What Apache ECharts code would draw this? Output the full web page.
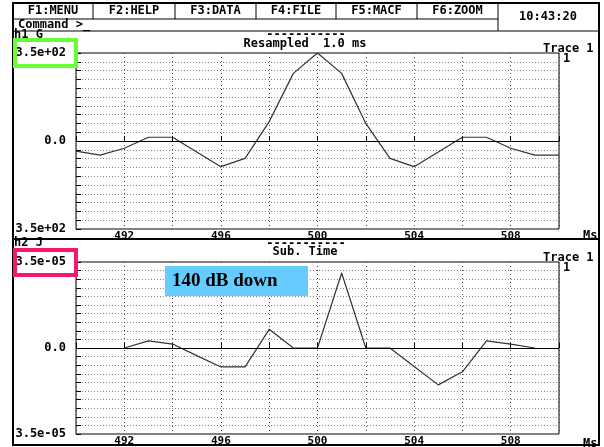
<!DOCTYPE html>
<html>
<head>
<meta charset="utf-8">
<script src="https://cdn.jsdelivr.net/npm/echarts@6/dist/echarts.min.js"></script>
<style>
  html, body { margin: 0; padding: 0; background: #fff; }
  #chart { width: 604px; height: 447px; }
</style>
</head>
<body>
<div id="chart"></div>
<script>
// upper trace, "Resampled 1.0 ms" (h1 G)
const timeTop = [490, 491, 492, 493, 494, 495, 496, 497, 498, 499, 500, 501, 502, 503, 504, 505, 506, 507, 508, 509, 510]
const resampled = [-40, -56, -29, 15, 15, -44, -102, -69, 77, 269, 350, 269, 70, -69, -102, -44, 15, 15, -29, -56, -56]

// lower trace, "Sub. Time" (h2 J), values in 1e-6
const timeSub = [492, 493, 494, 495, 496, 497, 498, 499, 500, 501, 502, 503, 504, 505, 506, 507, 508, 509]
const subTime = [0, 2.9, 1.6, -3.1, -7.7, -7.7, 7.6, 0, 0, 30.5, 0, 0, -7.5, -15, -9.7, 2.9, 1.6, 0]

const menuItems = ['F1:MENU', 'F2:HELP', 'F3:DATA', 'F4:FILE', 'F5:MACF', 'F6:ZOOM']
const menuEdges = [13, 93, 175, 256, 336, 417, 498]

const mono = 'bold 12px "DejaVu Sans Mono"'
const chart = echarts.init(document.getElementById('chart'))

function txt(text, x, y, align, font, z) {
    return {
        type: 'text', x: x, y: y, z: z || 10, silent: true,
        style: { text: text, font: font || mono, fill: '#000', align: align || 'left', verticalAlign: 'middle',
                 textAlign: align || 'left', textVerticalAlign: 'middle' }
    }
}
function ln(x1, y1, x2, y2, w) {
    return { type: 'line', z: 10, silent: true, shape: { x1: x1, y1: y1, x2: x2, y2: y2 }, style: { stroke: '#000', lineWidth: w || 1 } }
}

const graphics = [
    { type: 'rect', z: 10, silent: true, shape: { x: 13, y: 3, width: 586, height: 442 }, style: { fill: 'none', stroke: '#000', lineWidth: 2 } },
    ln(13, 19, 498, 19), ln(13, 31, 599, 31), ln(498, 3, 498, 31),
    ln(13, 239, 599, 239, 2),
    txt('10:43:20', 548, 17, 'center'),
    txt('Command >_', 18, 25),
    txt('h1 G', 14, 35),
    txt('-----------', 306, 35, 'center'),
    txt('Resampled  1.0 ms', 305, 44, 'center'),
    txt('Trace 1', 543, 49),
    txt('1', 563, 59),
    txt('Ms', 583, 236),
    txt('h2 J', 14, 243),
    txt('-----------', 306, 244, 'center'),
    txt('Sub. Time', 305, 252, 'center'),
    txt('Trace 1', 543, 258),
    txt('1', 563, 268),
    txt('Ms', 583, 444),
    { type: 'rect', z: 11, silent: true, shape: { x: 15, y: 40, width: 61, height: 26 }, style: { fill: 'none', stroke: '#66ff33', lineWidth: 4 } },
    { type: 'rect', z: 11, silent: true, shape: { x: 15, y: 250, width: 61, height: 25 }, style: { fill: 'none', stroke: '#f7186e', lineWidth: 4 } },
    { type: 'rect', z: 100, silent: true, shape: { x: 165, y: 266, width: 143, height: 30 }, style: { fill: '#66ccff' } },
    txt('140 dB down', 172, 281, 'left', 'bold 19px "Liberation Serif"', 101)
]
menuItems.forEach(function (m, i) {
    graphics.push(txt(m, (menuEdges[i] + menuEdges[i + 1]) / 2, 11, 'center'))
    if (i > 0) graphics.push(ln(menuEdges[i], 3, menuEdges[i], 19))
})

function xAxisFor(gridIndex) {
    return {
        type: 'value', gridIndex: gridIndex, min: 490, max: 510, interval: 2,
        axisLine: { show: false },
        axisTick: { inside: true, length: 5, lineStyle: { color: '#000' } },
        axisLabel: { margin: 2, color: '#000', fontFamily: 'DejaVu Sans Mono', fontWeight: 'bold', fontSize: 11,
                     formatter: function (v) { return v % 4 === 0 ? String(v) : '' } },
        splitLine: { show: true, lineStyle: { color: '#444', type: [1, 3] } }
    }
}
function yAxisFor(gridIndex, lim, step, edgeLabel) {
    return {
        type: 'value', gridIndex: gridIndex, min: -lim, max: lim, interval: step,
        axisLine: { show: false },
        axisTick: { inside: true, length: 5, lineStyle: { color: '#000' } },
        axisLabel: { margin: 10, color: '#000', fontFamily: 'DejaVu Sans Mono', fontWeight: 'bold', fontSize: 12,
                     formatter: function (v) {
                         if (Math.abs(v) > lim * 0.99) return edgeLabel
                         if (Math.abs(v) < lim * 0.001) return '0.0'
                         return ''
                     } },
        splitLine: { show: true, lineStyle: { color: '#888', type: [1, 2] } }
    }
}
function zeroLine() {
    return { silent: true, symbol: 'none', label: { show: false },
             lineStyle: { color: '#000', type: 'solid', width: 1 }, data: [{ yAxis: 0 }] }
}

chart.setOption({
    animation: false,
    backgroundColor: '#fff',
    grid: [
        { left: 76, top: 53, width: 483, height: 176, show: true, borderColor: '#000', borderWidth: 1 },
        { left: 76, top: 262, width: 483, height: 175, show: true, borderColor: '#000', borderWidth: 1 }
    ],
    xAxis: [xAxisFor(0), xAxisFor(1)],
    yAxis: [yAxisFor(0, 350, 35, '3.5e+02'), yAxisFor(1, 35, 3.5, '3.5e-05')],
    series: [
        {
            type: 'line', xAxisIndex: 0, yAxisIndex: 0, showSymbol: false,
            lineStyle: { color: '#333', width: 1.2 },
            data: timeTop.map(function (t, i) { return [t, resampled[i]] }),
            markLine: zeroLine()
        },
        {
            type: 'line', xAxisIndex: 1, yAxisIndex: 1, showSymbol: false,
            lineStyle: { color: '#333', width: 1.2 },
            data: timeSub.map(function (t, i) { return [t, subTime[i]] }),
            markLine: zeroLine()
        }
    ],
    graphic: graphics
})
</script>
</body>
</html>
